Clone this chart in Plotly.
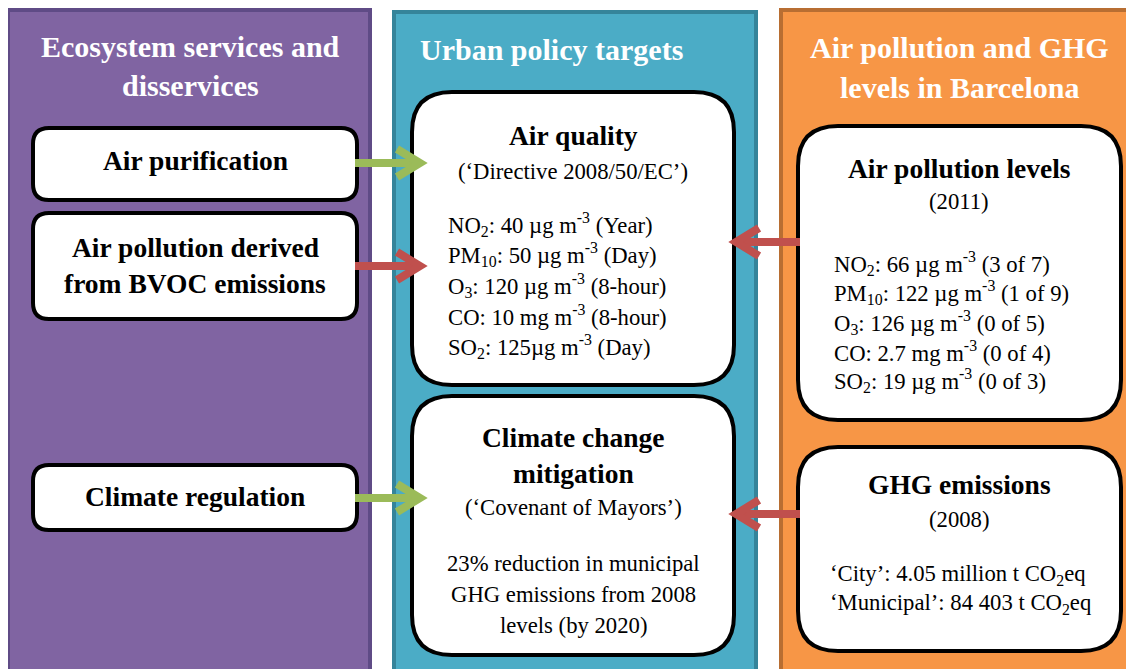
import plotly.graph_objects as go

W, H = 1134, 669
OFF = 8  # browser body margin; data coords = page pixels
FONT = "Liberation Serif"

# ---- text content ----
panel_titles = [
    ["Ecosystem services and", "disservices"],
    ["Urban policy targets"],
    ["Air pollution and GHG", "levels in Barcelona"],
]
left_boxes = [["Air purification"], ["Air pollution derived", "from BVOC emissions"], ["Climate regulation"]]
aq_title = ["Air quality"]
aq_sub = "(‘Directive 2008/50/EC’)"
aq_lines = [
    "NO<sub>2</sub>: 40 µg m<sup>-3</sup> (Year)",
    "PM<sub>10</sub>: 50 µg m<sup>-3</sup> (Day)",
    "O<sub>3</sub>: 120 µg m<sup>-3</sup> (8-hour)",
    "CO: 10 mg m<sup>-3</sup> (8-hour)",
    "SO<sub>2</sub>: 125µg m<sup>-3</sup> (Day)",
]
cc_title = ["Climate change", "mitigation"]
cc_sub = "(‘Covenant of Mayors’)"
cc_lines = ["23% reduction in municipal", "GHG emissions from 2008", "levels (by 2020)"]
ap_title = ["Air pollution levels"]
ap_sub = "(2011)"
ap_lines = [
    "NO<sub>2</sub>: 66 µg m<sup>-3</sup> (3 of 7)",
    "PM<sub>10</sub>: 122 µg m<sup>-3</sup> (1 of 9)",
    "O<sub>3</sub>: 126 µg m<sup>-3</sup> (0 of 5)",
    "CO: 2.7 mg m<sup>-3</sup> (0 of 4)",
    "SO<sub>2</sub>: 19 µg m<sup>-3</sup> (0 of 3)",
]
ghg_title = ["GHG emissions"]
ghg_sub = "(2008)"
ghg_lines = ["‘City’: 4.05 million t CO<sub>2</sub>eq", "‘Municipal’: 84 403 t CO<sub>2</sub>eq"]

# ---- styles ----
PURPLE, PURPLE_B = "#8064A2", "#5F4B86"
TEAL, TEAL_B = "#4BACC6", "#35849A"
ORANGE, ORANGE_B = "#F79646", "#B86E32"
GREEN, RED = "#9BBB59", "#C0504D"

shapes = []
annots = []


def rrect(x0, y0, x1, y1, r):
    return (f"M {x0+r},{y0} L {x1-r},{y0} Q {x1},{y0} {x1},{y0+r} "
            f"L {x1},{y1-r} Q {x1},{y1} {x1-r},{y1} L {x0+r},{y1} "
            f"Q {x0},{y1} {x0},{y1-r} L {x0},{y0+r} Q {x0},{y0} {x0+r},{y0} Z")


def panel(x0, y0, x1, y1, fill, border):
    shapes.append(dict(type="rect", x0=x0, y0=y0, x1=x1, y1=y1, fillcolor=fill,
                       line=dict(color=border, width=4), layer="below"))


def box(x0, y0, x1, y1, r):
    shapes.append(dict(type="path", path=rrect(x0, y0, x1, y1, r), fillcolor="white",
                       line=dict(color="black", width=4), layer="below"))


def text(x, y, s, size, bold=False, color="black", anchor="center"):
    if bold:
        s = f"<b>{s}</b>"
    annots.append(dict(x=x, y=y, xref="x", yref="y", text=s, showarrow=False,
                       xanchor=anchor, yanchor="middle",
                       font=dict(family=FONT, size=size, color=color)))


def arrow(xs, xt, y, color, direction):
    shapes.append(dict(type="line", x0=xs, y0=y, x1=xt - 6 * direction, y1=y,
                       line=dict(color=color, width=8)))
    ax = xt - 28 * direction
    shapes.append(dict(type="path", path=f"M {ax},{y-14} L {xt - 5*direction},{y} L {ax},{y+14}",
                       line=dict(color=color, width=8)))


# panels
panel(8, 10, 370, 680, PURPLE, PURPLE_B)
panel(394, 12, 756, 680, TEAL, TEAL_B)
panel(781, 10, 1150, 680, ORANGE, ORANGE_B)

# boxes
box(33, 128, 357, 200, 16)
box(33, 213, 357, 319, 16)
box(33, 465, 357, 530, 16)
box(412, 92, 734, 385, 40)
box(412, 396, 734, 655, 40)
box(798, 126, 1121, 420, 40)
box(798, 447, 1121, 651, 40)

# arrows
arrow(355, 425, 163, GREEN, 1)
arrow(355, 425, 266, RED, 1)
arrow(355, 425, 498, GREEN, 1)
arrow(800, 731, 242, RED, -1)
arrow(800, 731, 514, RED, -1)

# panel titles
TS = 30
text(190, 46, panel_titles[0][0], TS, True, "white")
text(190, 85, panel_titles[0][1], TS, True, "white")
text(551, 49, panel_titles[1][0], TS, True, "white")
text(959, 47, panel_titles[2][0], TS, True, "white")
text(959, 87, panel_titles[2][1], TS, True, "white")

BS = 27.5
RS = 22.7
# left boxes
text(195, 160, left_boxes[0][0], BS, True)
text(195, 247, left_boxes[1][0], BS, True)
text(195, 283, left_boxes[1][1], BS, True)
text(195, 496, left_boxes[2][0], BS, True)

# air quality
text(573, 135, aq_title[0], BS, True)
text(573, 171, aq_sub, RS)
for s, y in zip(aq_lines, [224, 254, 285, 315, 346]):
    text(446, y, s, RS, anchor="left")

# climate change
text(573, 437, cc_title[0], BS, True)
text(573, 473, cc_title[1], BS, True)
text(573, 507, cc_sub, RS)
for s, y in zip(cc_lines, [563, 594, 625]):
    text(573, y, s, RS)

# air pollution levels
text(959, 168, ap_title[0], BS, True)
text(959, 201, ap_sub, RS)
for s, y in zip(ap_lines, [263, 292, 322, 351, 380]):
    text(832, y, s, RS, anchor="left")

# GHG
text(959, 484, ghg_title[0], BS, True)
text(959, 519, ghg_sub, RS)
for s, y in zip(ghg_lines, [575, 604]):
    text(828, y, s, RS, anchor="left")

fig = go.Figure()
fig.update_layout(
    width=W, height=H, margin=dict(l=0, r=0, t=0, b=0),
    paper_bgcolor="white", plot_bgcolor="white",
    xaxis=dict(range=[OFF, W + OFF], visible=False, fixedrange=True),
    yaxis=dict(range=[H + OFF, OFF], visible=False, fixedrange=True),
    shapes=shapes, annotations=annots, showlegend=False,
)
fig.write_html("out.html")
